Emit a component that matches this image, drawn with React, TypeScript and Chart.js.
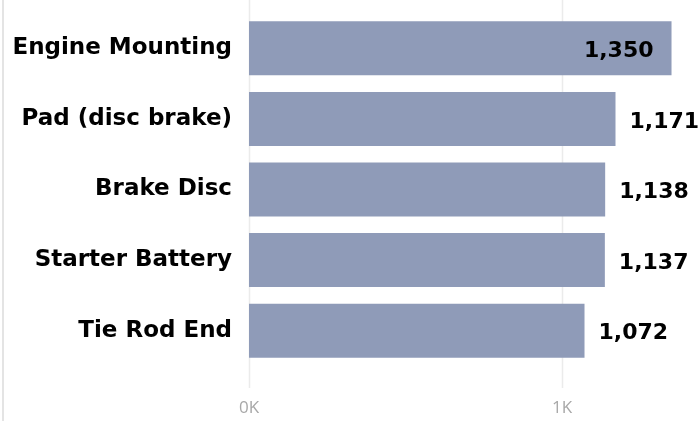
import React, { useEffect, useRef } from "react";
import { Chart, registerables } from "chart.js";

Chart.register(...registerables);

const categories = ["Engine Mounting", "Pad (disc brake)", "Brake Disc", "Starter Battery", "Tie Rod End"];
const values = [1350, 1171, 1138, 1137, 1072];
const xTickValues = [0, 1000];
const xTickLabels = ["0K", "1K"];

const BAR_COLOR = "#8f9bb8";
const LABEL_FONT = "bold 22px 'DejaVu Sans'";

const decorPlugin = {
  id: "decor",
  beforeDraw(chart: any) {
    const ctx = chart.ctx;
    ctx.save();
    ctx.strokeStyle = "#e4e4e4";
    ctx.lineWidth = 2;
    ctx.beginPath();
    ctx.moveTo(3, 0);
    ctx.lineTo(3, chart.height);
    ctx.stroke();
    ctx.restore();
  },
  beforeDatasetsDraw(chart: any) {
    const ctx = chart.ctx;
    const xs = chart.scales.x;
    ctx.save();
    ctx.strokeStyle = "#ebebeb";
    ctx.lineWidth = 1.5;
    xTickValues.forEach((v) => {
      const px = Math.round(xs.getPixelForValue(v)) + 0.5;
      ctx.beginPath();
      ctx.moveTo(px, 0);
      ctx.lineTo(px, chart.chartArea.bottom + 22);
      ctx.stroke();
    });
    ctx.restore();
  },
  afterDatasetsDraw(chart: any) {
    const ctx = chart.ctx;
    const meta = chart.getDatasetMeta(0);
    ctx.save();
    ctx.font = LABEL_FONT;
    ctx.fillStyle = "#000000";
    ctx.textBaseline = "middle";
    meta.data.forEach((bar: any, i: number) => {
      const text = values[i].toLocaleString("en-US");
      const w = ctx.measureText(text).width;
      const outsideX = bar.x + 14;
      if (outsideX + w > chart.width + 6) {
        ctx.textAlign = "right";
        ctx.fillText(text, bar.x - 18, bar.y + 3);
      } else {
        ctx.textAlign = "left";
        ctx.fillText(text, outsideX, bar.y + 3);
      }
    });
    ctx.restore();
  },
};

export default function App() {
  const ref = useRef<HTMLCanvasElement | null>(null);
  useEffect(() => {
    if (!ref.current) return;
    const chart = new Chart(ref.current, {
      type: "bar",
      data: {
        labels: categories,
        datasets: [
          {
            data: values,
            backgroundColor: BAR_COLOR,
            borderWidth: 0,
            categoryPercentage: 1,
            barPercentage: 0.765,
          },
        ],
      },
      options: {
        indexAxis: "y",
        animation: false,
        responsive: true,
        maintainAspectRatio: false,
        layout: { autoPadding: false, padding: { top: 13, right: 0, left: 0, bottom: 0 } },
        plugins: { legend: { display: false }, tooltip: { enabled: false } },
        scales: {
          x: {
            min: 0,
            max: 1441,
            grid: { display: false },
            border: { display: false },
            afterBuildTicks: (scale: any) => {
              scale.ticks = xTickValues.map((v) => ({ value: v }));
            },
            afterFit: (scale: any) => {
              scale.height = 55;
              scale.paddingLeft = 0;
              scale.paddingRight = 0;
              scale.paddingTop = 0;
              scale.paddingBottom = 0;
            },
            ticks: {
              padding: 24,
              color: "#a8a8a8",
              font: { family: "'Open Sans'", size: 17 },
              callback: (v: any) => {
                const i = xTickValues.indexOf(Number(v));
                return i >= 0 ? xTickLabels[i] : "";
              },
            },
          },
          y: {
            grid: { display: false },
            border: { display: false },
            afterFit: (scale: any) => {
              scale.width = 249;
              scale.paddingTop = 0;
              scale.paddingBottom = 0;
              scale.paddingLeft = 0;
              scale.paddingRight = 0;
            },
            ticks: {
              padding: 9,
              color: "#000000",
              font: { family: "'DejaVu Sans'", size: 23, weight: "bold" },
            },
          },
        },
      },
      plugins: [decorPlugin],
    });
    return () => chart.destroy();
  }, []);
  return (
    <div style={{ position: "absolute", left: 0, top: 0, width: 700, height: 421, background: "#fff" }}>
      <canvas ref={ref} />
    </div>
  );
}
